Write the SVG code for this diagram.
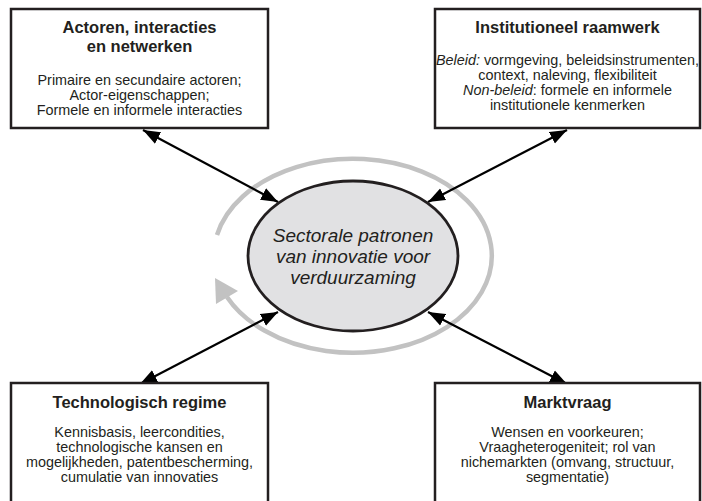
<svg xmlns="http://www.w3.org/2000/svg" width="702" height="501" viewBox="0 0 702 501">
<style>
.box{fill:#fff;stroke:#231f20;stroke-width:2.5}
.t{font-family:"Liberation Sans",Arial,sans-serif;font-size:16.5px;font-weight:bold;fill:#231f20;text-anchor:middle}
.b{font-family:"Liberation Sans",Arial,sans-serif;font-size:14.4px;fill:#231f20;text-anchor:middle}
.c{font-family:"Liberation Sans",Arial,sans-serif;font-size:19px;font-style:italic;fill:#231f20;text-anchor:middle}
.arr{stroke:#000;stroke-width:2.2;fill:none;marker-start:url(#ah);marker-end:url(#ah)}
</style>
<defs>
<marker id="ah" markerUnits="userSpaceOnUse" markerWidth="18" markerHeight="14" viewBox="0 0 18 14" refX="17" refY="7" orient="auto-start-reverse">
<path d="M0,0.5 L17,7 L0,13.5 z" fill="#000"/>
</marker>
</defs>
<rect width="702" height="501" fill="#fff"/>
<g id="cycle">
<path d="M217,235 A139 97 0 1 1 227,297" fill="none" stroke="#c2c2c2" stroke-width="4.5"/>
<polygon points="215,278 238,291 216,304" fill="#c2c2c2"/>
</g>
<g id="connectors">
<line class="arr" x1="143" y1="130" x2="278" y2="202"/>
<line class="arr" x1="567" y1="130" x2="428" y2="202"/>
<line class="arr" x1="140" y1="384" x2="278" y2="312"/>
<line class="arr" x1="567" y1="384" x2="428" y2="312"/>
</g>
<g id="center">
<ellipse cx="353" cy="256" rx="105" ry="75" fill="#e1e1e3" stroke="#231f20" stroke-width="2.8"/>
<text class="c" x="353" y="242">Sectorale patronen</text>
<text class="c" x="353" y="263">van innovatie voor</text>
<text class="c" x="353" y="284">verduurzaming</text>
</g>
<g id="actoren">
<rect class="box" x="11" y="9" width="257" height="119"/>
<text class="t" x="139.5" y="33">Actoren, interacties</text>
<text class="t" x="139.5" y="52">en netwerken</text>
<text class="b" x="139.5" y="85">Primaire en secundaire actoren;</text>
<text class="b" x="139.5" y="100">Actor-eigenschappen;</text>
<text class="b" x="139.5" y="115">Formele en informele interacties</text>
</g>
<g id="institutioneel">
<rect class="box" x="435" y="9" width="265" height="119"/>
<text class="t" x="567.5" y="33">Institutioneel raamwerk</text>
<text class="b" x="567.5" y="65"><tspan font-style="italic">Beleid:</tspan> vormgeving, beleidsinstrumenten,</text>
<text class="b" x="567.5" y="80">context, naleving, flexibiliteit</text>
<text class="b" x="567.5" y="95"><tspan font-style="italic">Non-beleid</tspan>: formele en informele</text>
<text class="b" x="567.5" y="110">institutionele kenmerken</text>
</g>
<g id="technologisch">
<rect class="box" x="11" y="383" width="257" height="130"/>
<text class="t" x="139.5" y="408">Technologisch regime</text>
<text class="b" x="139.5" y="437">Kennisbasis, leercondities,</text>
<text class="b" x="139.5" y="452">technologische kansen en</text>
<text class="b" x="139.5" y="467">mogelijkheden, patentbescherming,</text>
<text class="b" x="139.5" y="482">cumulatie van innovaties</text>
</g>
<g id="marktvraag">
<rect class="box" x="435" y="383" width="265" height="130"/>
<text class="t" x="567.5" y="408">Marktvraag</text>
<text class="b" x="567.5" y="437">Wensen en voorkeuren;</text>
<text class="b" x="567.5" y="452">Vraagheterogeniteit; rol van</text>
<text class="b" x="567.5" y="467">nichemarkten (omvang, structuur,</text>
<text class="b" x="567.5" y="482">segmentatie)</text>
</g>
</svg>
